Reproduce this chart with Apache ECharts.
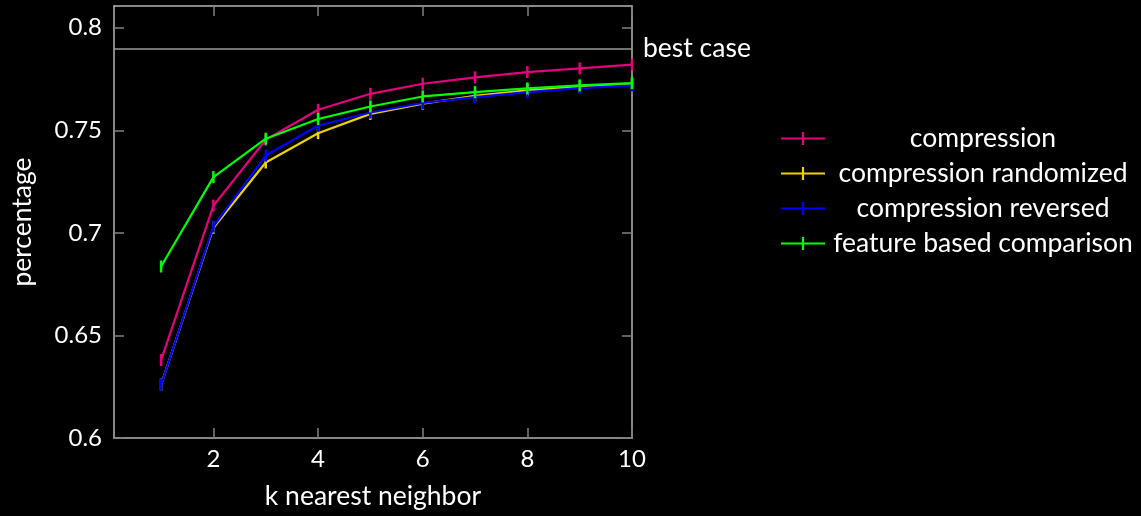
<!DOCTYPE html>
<html>
<head>
<meta charset="utf-8">
<script src="https://cdn.jsdelivr.net/npm/echarts@6/dist/echarts.min.js"></script>
<style>
html,body{margin:0;padding:0;background:#000;}
#chart{width:1141px;height:516px;}
</style>
</head>
<body>
<div id="chart"></div>
<script>
const kValues = [1, 2, 3, 4, 5, 6, 7, 8, 9, 10];
const compression = [0.638, 0.7133, 0.7454, 0.760, 0.7678, 0.7727, 0.7758, 0.7784, 0.7802, 0.782];
const compressionRandomized = [0.626, 0.7025, 0.7343, 0.7486, 0.758, 0.7630, 0.7668, 0.7695, 0.7712, 0.7722];
const compressionReversed = [0.6259, 0.7031, 0.7377, 0.7522, 0.7587, 0.7633, 0.7662, 0.7686, 0.7706, 0.7719];
const featureBased = [0.6836, 0.7272, 0.7459, 0.7555, 0.7616, 0.7665, 0.7686, 0.7704, 0.7719, 0.773];
const bestCase = 0.7907;
const xTicks = [2, 4, 6, 8, 10];
const yTicks = [0.6, 0.65, 0.7, 0.75, 0.8];
const seriesNames = ['compression', 'compression randomized', 'compression reversed', 'feature based comparison'];
const seriesColors = ['#e5007d', '#ecd300', '#0000ff', '#00ff00'];
const seriesData = [compression, compressionRandomized, compressionReversed, featureBased];

const FONT = 'Lato';
const TXT = 26.5;
const frameColor = '#b4b4b4';
const tickColor = '#808080';
const xMin = 0.1, xMax = 10, yMin = 0.6, yMax = 0.8106;

function makeX(pos, show) {
  return {
    type: 'value', position: pos, min: xMin, max: xMax,
    axisLine: { show: true, onZero: false, lineStyle: { color: frameColor, width: 1.5 } },
    axisTick: { show: true, inside: true, length: 10, customValues: xTicks, lineStyle: { color: tickColor, width: 1.5 } },
    axisLabel: { show: show, customValues: xTicks, color: '#fff', fontFamily: FONT, fontSize: 24, margin: 9 },
    splitLine: { show: false },
    name: show ? 'k nearest neighbor' : '',
    nameLocation: 'middle', nameGap: 45,
    nameTextStyle: { color: '#fff', fontFamily: FONT, fontSize: TXT }
  };
}
function makeY(pos, show) {
  return {
    type: 'value', position: pos, min: yMin, max: yMax,
    axisLine: { show: true, onZero: false, lineStyle: { color: frameColor, width: 1.5 } },
    axisTick: { show: true, inside: true, length: 10, customValues: yTicks, lineStyle: { color: tickColor, width: 1.5 } },
    axisLabel: { show: show, customValues: yTicks, color: '#fff', fontFamily: FONT, fontSize: 24, margin: 12,
      formatter: v => String(Math.round(v * 100) / 100) },
    splitLine: { show: false },
    name: show ? 'percentage' : '',
    nameLocation: 'middle', nameGap: 78,
    nameTextStyle: { color: '#fff', fontFamily: FONT, fontSize: TXT }
  };
}

const legendIcon = 'path://M0,6.2h40v1.6h-40z M19,1h2v12h-2z';

const series = seriesNames.map((name, i) => ({
  name: name,
  type: 'line',
  data: kValues.map((k, j) => [k, seriesData[i][j]]),
  color: seriesColors[i],
  lineStyle: { width: 2.2, color: seriesColors[i] },
  symbol: 'rect',
  symbolSize: [2.5, 12],
  showAllSymbol: true,
  itemStyle: { color: seriesColors[i] },
  emphasis: { disabled: true },
  z: 3 + i
}));

series.push({
  name: 'best',
  type: 'line',
  data: [],
  markLine: {
    silent: true, symbol: 'none',
    lineStyle: { color: '#9a9a9a', width: 1.5, type: 'solid' },
    label: { show: true, position: 'end', formatter: 'best case', color: '#fff', fontFamily: FONT, fontSize: TXT, distance: 11 },
    data: [{ yAxis: bestCase }]
  }
});

const chart = echarts.init(document.getElementById('chart'));
chart.setOption({
  backgroundColor: '#000',
  animation: false,
  grid: { left: 114, right: 509, top: 6, bottom: 78 },
  xAxis: [makeX('bottom', true), makeX('top', false)],
  yAxis: [makeY('left', true), makeY('right', false)],
  legend: {
    data: seriesNames,
    orient: 'vertical',
    left: 776, top: 120,
    itemWidth: 44, itemHeight: 14, itemGap: 8,
    icon: legendIcon,
    formatter: name => '{a|' + name + '}',
    textStyle: {
      color: '#fff', fontFamily: FONT, fontSize: TXT,
      rich: { a: { width: 306, align: 'center', height: 28, color: '#fff', fontFamily: FONT, fontSize: TXT } }
    },
    selectedMode: false
  },
  series: series
});
</script>
</body>
</html>
